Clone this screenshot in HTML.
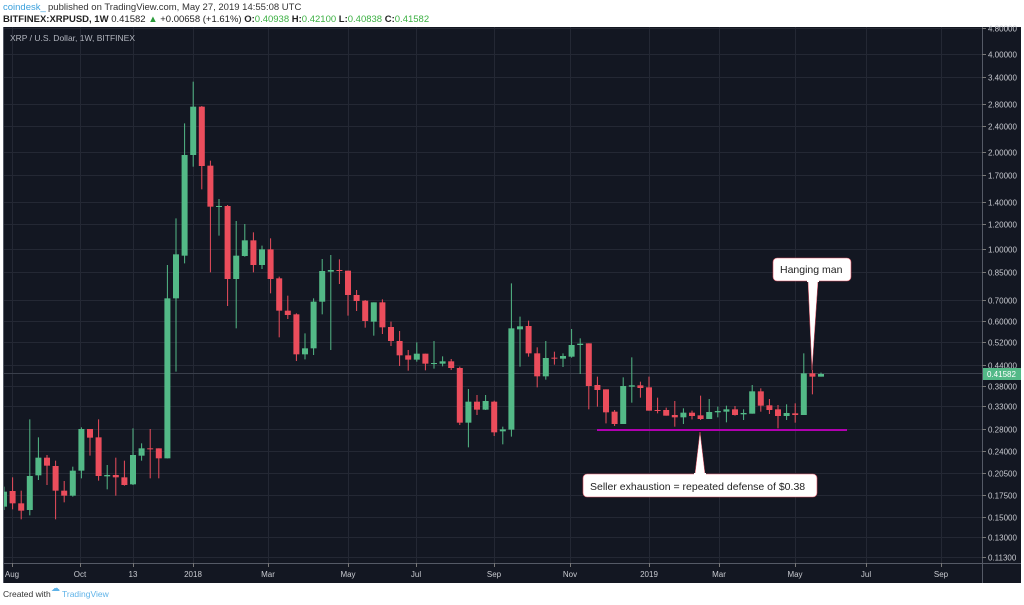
<!DOCTYPE html>
<html><head><meta charset="utf-8"><style>
body{margin:0;background:#fff;width:1024px;height:605px;overflow:hidden;font-family:"Liberation Sans",sans-serif}
svg{position:absolute;left:0;top:0}
</style></head><body>
<svg id="s" width="1024" height="605" xmlns="http://www.w3.org/2000/svg">
<text x="3" y="10" font-size="9.5" fill="#3aa0dc">coindesk_</text>
<text x="48" y="10" font-size="9.5" fill="#333">published on TradingView.com, May 27, 2019 14:55:08 UTC</text>
<text x="3" y="22" font-size="9.5" fill="#222"><tspan font-weight="bold">BITFINEX:XRPUSD, 1W</tspan> 0.41582 <tspan fill="#2a9a3a">▲</tspan> +0.00658 (+1.61%) <tspan font-weight="bold">O:</tspan><tspan fill="#3cb043">0.40938</tspan> <tspan font-weight="bold">H:</tspan><tspan fill="#3cb043">0.42100</tspan> <tspan font-weight="bold">L:</tspan><tspan fill="#3cb043">0.40838</tspan> <tspan font-weight="bold">C:</tspan><tspan fill="#3cb043">0.41582</tspan></text>
<rect x="3" y="27" width="1018" height="556" fill="#131722"/>
<g id="grid" stroke="#242834" stroke-width="1"></g>
<line x1="3" y1="373.5" x2="982" y2="373.5" stroke="#3a3f4b" stroke-width="1"/>
<g id="c"></g>
<line x1="597" y1="430" x2="847" y2="430" stroke="#b000b0" stroke-width="2"/>
<line x1="982.5" y1="27" x2="982.5" y2="583" stroke="#555a66"/>
<line x1="3" y1="563.5" x2="1021" y2="563.5" stroke="#555a66"/>
<line x1="3.5" y1="27" x2="3.5" y2="583" stroke="#555a66"/>
<g id="ax" font-size="8" fill="#c8cad0"></g>
<rect x="983" y="368" width="38" height="12" fill="#53b987"/>
<text x="987" y="377" font-size="8" fill="#fff">0.41582</text>
<text x="10" y="41" font-size="8.5" fill="#b2b5be">XRP / U.S. Dollar, 1W, BITFINEX</text>
<polygon points="808,281 818,281 812,370" fill="#fff" stroke="#e05060" stroke-width="0.5"/>
<rect x="773" y="258" width="78" height="23" rx="4" fill="#fff" stroke="#e05060" stroke-width="0.6"/>
<rect x="807" y="279" width="12" height="3" fill="#fff"/>
<text x="780" y="273" font-size="10.5" fill="#222">Hanging man</text>
<polygon points="695,474 705,474 700,432" fill="#fff" stroke="#e05060" stroke-width="0.5"/>
<rect x="583" y="474" width="234" height="23" rx="4" fill="#fff" stroke="#e05060" stroke-width="0.6"/>
<rect x="694" y="473" width="12" height="3" fill="#fff"/>
<text x="590" y="490" font-size="10.5" fill="#222">Seller exhaustion = repeated defense of $0.38</text>
<text x="3" y="597" font-size="8.5" fill="#333">Created with</text>
<text x="51" y="591" font-size="9" fill="#5fb3e8">☁</text>
<text x="62" y="597" font-size="8.5" fill="#5fb3e8">TradingView</text>
</svg>
<script>
var NS="http://www.w3.org/2000/svg";
function el(p,t,a,tx){var e=document.createElementNS(NS,t);for(var k in a)e.setAttribute(k,a[k]);if(tx)e.textContent=tx;p.appendChild(e);return e;}
var grid=document.getElementById('grid'),ax=document.getElementById('ax'),c=document.getElementById('c');
var prices=[4.8,4,3.4,2.8,2.4,2,1.7,1.4,1.2,1,0.85,0.7,0.6,0.52,0.44,0.38,0.33,0.28,0.24,0.205,0.175,0.15,0.13,0.113];
prices.forEach(function(p){var y=54+141*Math.log(4/p);y=Math.round(y)+0.5;
 el(grid,'line',{x1:3,y1:y,x2:982,y2:y});el(ax,'line',{x1:982,y1:y,x2:986,y2:y,stroke:'#777'});
 el(ax,'text',{x:988,y:y+3},p.toFixed(5));});
var months=[["Aug",12],["Oct",80],["13",133],["2018",193],["Mar",268],["May",348],["Jul",416],["Sep",494],["Nov",570],["2019",649],["Mar",719],["May",795],["Jul",866],["Sep",941]];
months.forEach(function(m){var x=m[1]+0.5;el(grid,'line',{x1:x,y1:27,x2:x,y2:563});
 el(ax,'line',{x1:x,y1:563,x2:x,y2:567,stroke:'#777'});el(ax,'text',{x:m[1],y:577,'text-anchor':'middle'},m[0]);});
var A=[["g",1265,1310,1250,1320],["r",1263,1300,1222,1318],["r",1300,1322,1262,1348],["g",1218,1320,1048,1336],["g",1163,1216,1102,1230],["r",1163,1187,1155,1245],["r",1188,1262,1172,1348],["r",1262,1277,1233,1297],["g",1202,1277,1190,1280],["g",1077,1202,1072,1225],["r",1077,1103,1077,1157],["r",1102,1218,1048,1232],["g",1215,1219,1185,1258],["r",1215,1222,1163,1277],["r",1222,1245,1172,1247],["g",1155,1243,1075,1245],["g",1135,1157,1120,1172],["r",1135,1137,1077,1225],["r",1135,1165,1135,1225],["g",685,1165,585,1165],["g",553,685,445,905],["g",255,557,160,580],["g",110,255,35,290],["r",110,288,108,358],["r",287,410,272,607],["g",408,411,387,497],["r",408,627,405,708],["g",557,627,453,775],["g",511,558,462,560],["r",511,585,487,607],["g",538,585,527,597],["r",538,627,505,670],["r",625,722,620,802],["r",722,735,677,747],["r",733,853,730,873],["g",835,853,790,868],["g",695,835,685,855],["g",603,695,567,733]];
var B=[["g",90,95,45,330],["r",90,92,58,132],["r",92,165,92,227],["r",165,183,150,213],["r",182,243,180,263],["g",187,245,187,287],["r",187,262,178,282],["r",261,303,245,318],["r",303,346,273,378],["r",346,359,330,392],["g",341,359,307,365],["r",341,371,341,391],["g",369,371,303,386],["g",364,371,349,379],["r",364,384,357,390],["r",384,548,380,555],["g",485,548,447,622],["r",485,509,465,525],["g",483,509,465,510],["r",485,577,482,588],["g",568,574,560,613],["g",265,569,130,590],["g",259,268,230,380],["r",258,340,242,350],["r",340,409,322,442],["g",354,409,303,419],["r",353,356,335,374],["g",348,356,340,381],["g",315,350,267,353],["g",311,315,295,402]];
var C=[["r",280,408,280,478],["r",405,420,380,470],["r",418,487,418,520],["r",485,522,480,528],["g",408,522,382,522],["g",406,410,322,458],["r",406,414,395,443],["r",412,482,380,482],["r",480,483,443,490],["r",480,497,473,497],["r",495,502,453,530],["g",488,502,475,522],["r",488,498,482,508],["r",496,507,437,510],["g",486,507,447,507],["g",483,487,470,502],["g",478,485,467,517],["r",478,495,468,497],["g",489,493,478,510],["g",424,491,405,491],["r",424,467,415,485],["r",466,480,447,492],["r",478,498,465,535],["g",489,498,463,510],["r",490,495,460,518],["g",370,495,310,495],["r",370,380,360,433],["g",372,380,368,380]];
var all=[];A.forEach(function(d){all.push([d[0],70+d[1]/3,70+d[2]/3,70+d[3]/3,70+d[4]/3]);});
B.forEach(function(d){all.push([d[0],240+d[1]/3,240+d[2]/3,240+d[3]/3,240+d[4]/3]);});
C.forEach(function(d){all.push([d[0],250+d[1]/3,250+d[2]/3,250+d[3]/3,250+d[4]/3]);});
all.forEach(function(d,i){var x=4+8.6*i;var col=d[0]=="g"?"#53b987":"#eb4d5c";
 el(c,'line',{x1:x,y1:d[3],x2:x,y2:d[4],stroke:col,'stroke-width':1});
 var h=Math.max(1,d[2]-d[1]);var w=6,x0=x-3;if(x0<4){w-=4-x0;x0=4;}
 el(c,'rect',{x:x0,y:d[1],width:w,height:h,fill:col});});
</script>
</body></html>
